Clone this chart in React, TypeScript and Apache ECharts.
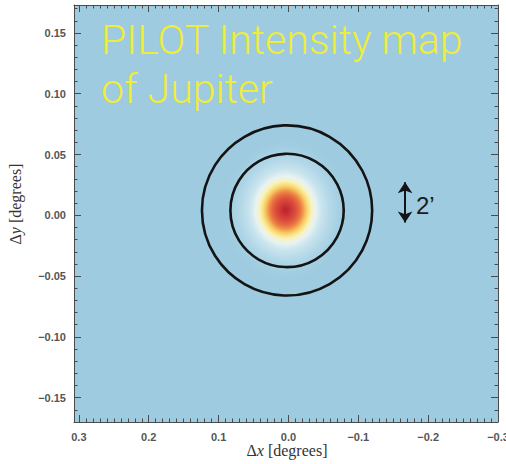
import React, { useEffect, useRef } from "react";
import * as echarts from "echarts";

// Jupiter intensity: centre (degrees) and radial profile
const blobCenter = [0.004, 0.0044];
const profileR = [0, 0.3, 0.49, 0.69, 0.84, 0.99, 1.14, 1.28, 1.48, 1.78, 2.22, 2.71, 3.21]; // arcmin
const profileI = [1.0, 0.9, 0.84, 0.76, 0.68, 0.56, 0.45, 0.34, 0.24, 0.14, 0.07, 0.02, 0.0]; // normalised
const blobAspect = 1.12; // vertical / horizontal extent

// Colour table of the map (low -> high)
const colorTable = [
  "#9ecbe0",
  "#c4e2ee",
  "#ecf5f0",
  "#fbf1ac",
  "#f9da68",
  "#f3ab55",
  "#e8703f",
  "#d6403a",
  "#b8202e",
];

// Beam circles (degrees) and the 2 arcmin scale arrow
const circleCenter = [0.002, 0.004];
const circleRadii = [0.0466, 0.07];
const arrowX = -0.167;
const arrowY = [-0.006, 0.0273];

// Axis extents
const xRange = [-0.3, 0.307];
const yRange = [-0.17, 0.173];

const titleText = "PILOT Intensity map\nof Jupiter";

const FRAME = "#4a4a4a";

function fmtNum(v: number, d: number) {
  const s = Math.abs(v).toFixed(d);
  return v < -1e-9 ? "\u2212" + s : s;
}

export default function App() {
  const ref = useRef<HTMLDivElement>(null);
  useEffect(() => {
    if (!ref.current) return;
    document.body.style.margin = "0";
    const chart = echarts.init(ref.current, undefined, { renderer: "svg", width: 506, height: 464 });

    const labelStyle = {
      color: "#555",
      fontFamily: "Liberation Sans, Arial, sans-serif",
      fontWeight: "bold" as const,
      fontSize: 11,
    };

    const mkX = (position: "bottom" | "top", major: boolean) => ({
      type: "value" as const,
      position,
      min: xRange[0],
      max: xRange[1],
      interval: major ? 0.1 : 0.01,
      inverse: true,
      axisLine: { show: major, onZero: false, lineStyle: { color: FRAME, width: 1 } },
      axisTick: { show: true, inside: true, length: major ? 7 : 3.5, lineStyle: { color: FRAME, width: 1 } },
      axisLabel: {
        show: major && position === "bottom",
        margin: 9,
        ...labelStyle,
        formatter: (v: number) =>
          Math.abs(v * 10 - Math.round(v * 10)) < 1e-6 ? fmtNum(v, 1) : "",
      },
      splitLine: { show: false },
    });

    const mkY = (position: "left" | "right", major: boolean) => ({
      type: "value" as const,
      position,
      min: yRange[0],
      max: yRange[1],
      ...(major ? { splitNumber: 6 } : { interval: 0.01 }),
      axisLine: { show: major, onZero: false, lineStyle: { color: FRAME, width: 1 } },
      axisTick: { show: true, inside: true, length: major ? 7 : 3.5, lineStyle: { color: FRAME, width: 1 } },
      axisLabel: {
        show: major && position === "left",
        margin: 8,
        ...labelStyle,
        formatter: (v: number) =>
          Math.abs(v * 20 - Math.round(v * 20)) < 1e-6 ? fmtNum(v, 2) : "",
      },
      splitLine: { show: false },
    });

    const serif = "Liberation Serif, Times New Roman, serif";
    const rMax = profileR[profileR.length - 1];

    chart.setOption({
      animation: false,
      backgroundColor: "#ffffff",
      grid: {
        left: 74,
        right: 8,
        top: 5,
        bottom: 42,
        containLabel: false,
        outerBoundsMode: "none",
        show: true,
        backgroundColor: colorTable[0],
        borderWidth: 0,
      },
      xAxis: [mkX("bottom", true), mkX("bottom", false), mkX("top", true), mkX("top", false)],
      yAxis: [mkY("left", true), mkY("left", false), mkY("right", true), mkY("right", false)],
      series: [
        {
          type: "custom",
          xAxisIndex: 0,
          yAxisIndex: 0,
          z: 2,
          data: [[blobCenter[0], blobCenter[1], rMax]],
          renderItem: (params: any, api: any) => {
            const c = api.coord([api.value(0), api.value(1)]);
            const rx = Math.abs(api.size([0, api.value(2) / 60])[1]);
            const ry = rx * blobAspect;
            const stops = profileR.map((r, i) => {
              const col = echarts.color.lerp(profileI[i], colorTable) as string;
              return {
                offset: r / rMax,
                color: i === profileR.length - 1 ? echarts.color.modifyAlpha(col, 0) : col,
              };
            });
            return {
              type: "ellipse",
              shape: { cx: c[0], cy: c[1], rx, ry },
              style: { fill: new echarts.graphic.RadialGradient(0.5, 0.5, 0.5, stops) },
            };
          },
        },
        {
          type: "custom",
          xAxisIndex: 0,
          yAxisIndex: 0,
          z: 3,
          data: circleRadii.map((r) => [circleCenter[0], circleCenter[1], r]),
          renderItem: (params: any, api: any) => {
            const c = api.coord([api.value(0), api.value(1)]);
            const rp = Math.abs(api.size([0, api.value(2)])[1]);
            return {
              type: "circle",
              shape: { cx: c[0], cy: c[1], r: rp },
              style: { fill: "none", stroke: "#141414", lineWidth: 2.6 },
            };
          },
        },
        {
          type: "lines",
          coordinateSystem: "cartesian2d",
          xAxisIndex: 0,
          yAxisIndex: 0,
          z: 4,
          symbol: ["arrow", "arrow"],
          symbolSize: 11,
          lineStyle: { color: "#141414", width: 2, opacity: 1, curveness: 0 },
          data: [{ coords: [[arrowX, arrowY[0]], [arrowX, arrowY[1]]] }],
        },
      ],
      graphic: [
        {
          type: "text",
          z: 10,
          style: {
            text: titleText,
            x: 101,
            y: 15,
            fill: "#efec3c",
            font: "300 41px Roboto, 'Open Sans', 'Liberation Sans', sans-serif",
            lineHeight: 49,
            textVerticalAlign: "top",
          },
        },
        {
          type: "text",
          z: 10,
          style: {
            text: "2\u2019",
            x: 416,
            y: 205,
            fill: "#1a1a1a",
            font: "24px 'Liberation Sans', sans-serif",
            textVerticalAlign: "middle",
          },
        },
        {
          type: "text",
          z: 10,
          style: {
            text: "{n|\u0394}{i|x}{n| [degrees]}",
            x: 287,
            y: 450,
            align: "center",
            verticalAlign: "middle",
            rich: {
              n: { font: `16px ${serif}`, fill: "#333" },
              i: { font: `italic 16px ${serif}`, fill: "#333" },
            },
          },
        },
        {
          type: "text",
          z: 10,
          x: 15,
          y: 204,
          rotation: Math.PI / 2,
          style: {
            text: "{n|\u0394}{i|y}{n| [degrees]}",
            x: 0,
            y: 0,
            align: "center",
            verticalAlign: "middle",
            rich: {
              n: { font: `16px ${serif}`, fill: "#333" },
              i: { font: `italic 16px ${serif}`, fill: "#333" },
            },
          },
        },
      ],
    });

    return () => chart.dispose();
  }, []);

  return (
    <div
      ref={ref}
      style={{ position: "fixed", left: 0, top: 0, width: 506, height: 464 }}
    />
  );
}
